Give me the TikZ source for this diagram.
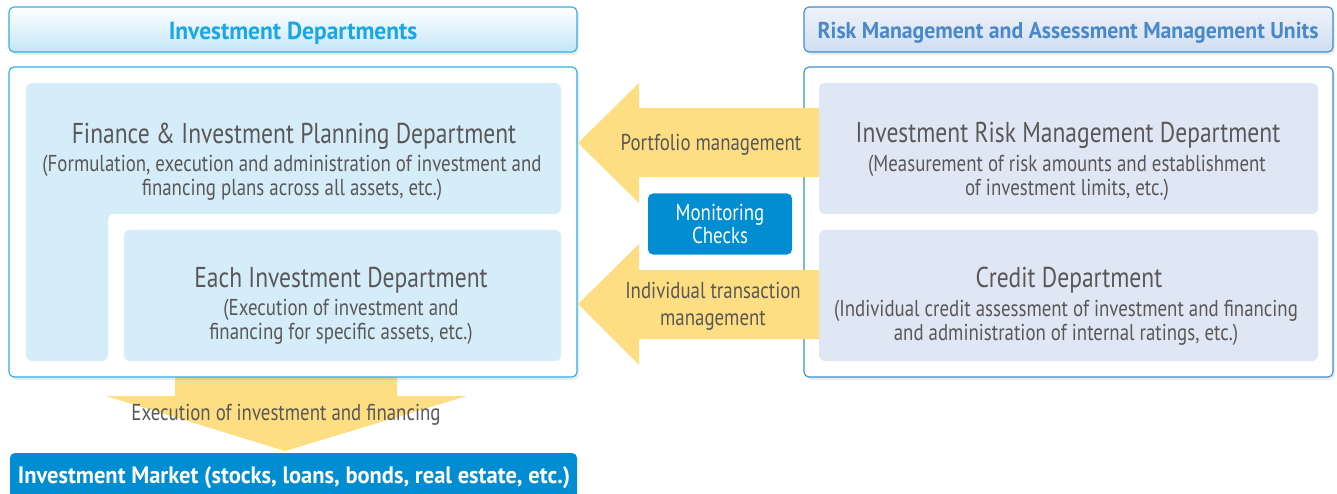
\documentclass[tikz,border=0pt]{standalone}
\usepackage{fontspec}
\setmainfont{PT Sans}[FakeStretch=0.82]
\newfontfamily\headfont{PT Sans}[FakeStretch=0.95]
\usepackage{tikz}
\usetikzlibrary{shadows}
\definecolor{deptcyan}{HTML}{2AB0E6}
\definecolor{riskblue}{HTML}{3A8DD0}
\definecolor{invfill}{HTML}{D5ECF9}
\definecolor{riskfill}{HTML}{E0E7F4}
\definecolor{arrowyel}{HTML}{FDDE82}
\definecolor{monblue}{HTML}{008DD2}
\definecolor{txtgray}{HTML}{595757}
\definecolor{invtitle}{HTML}{1BA6E4}
\definecolor{risktitle}{HTML}{4A88C9}

\begin{document}
\begin{tikzpicture}[x=1pt,y=-1pt,
  frame/.style={rounded corners=5pt,line width=1.1pt,fill=white,
    drop shadow={opacity=0.15,shadow xshift=2pt,shadow yshift=-3pt}},
  headtext/.style={font=\headfont\bfseries\fontsize{#1}{28}\selectfont},
  depttitle/.style={text=txtgray,font=\fontsize{28.7}{32}\selectfont},
  deptdesc/.style={text=txtgray,align=center,font=\fontsize{23}{24}\selectfont},
  arrowtext/.style={text=txtgray,align=center,font=\fontsize{23}{27}\selectfont}]
\useasboundingbox (0,0) rectangle (1337,494);

% execution arrow and market
\fill[arrowyel] (175,377) -- (397,377) -- (397,396) -- (467,396) -- (285,451)
  -- (106,396) -- (175,396) -- cycle;
\fill[monblue,rounded corners=5pt] (10,453) rectangle (577,515);
\node[headtext=23.7,text=white] (market) at (294,478) {Investment Market (stocks, loans, bonds, real estate, etc.)};
\node[arrowtext] (exec) at (286,415) {Execution of investment and financing};

% headers
\draw[frame,draw=deptcyan,top color=white,bottom color=invfill!90!deptcyan] (9,7) rectangle (577,52);
\draw[frame,draw=riskblue,top color=riskfill!50,bottom color=riskfill!90!riskblue] (804,7) rectangle (1333,52);
\node[headtext=24.7,text=invtitle] (invhead) at (293,33) {Investment Departments};
\node[headtext=22.9,text=risktitle] (riskhead) at (1068,33) {Risk Management and Assessment Management Units};

% outer frames
\draw[frame,draw=deptcyan] (9,67) rectangle (577,377);
\draw[frame,draw=riskblue] (804,67) rectangle (1333,377);

% management arrows
\fill[arrowyel] (820,108) -- (639,108) -- (639,83) -- (578,143) -- (639,203)
  -- (639,177) -- (820,177) -- cycle;
\fill[arrowyel] (820,270) -- (639,270) -- (639,244) -- (578,304) -- (639,365)
  -- (639,339) -- (820,339) -- cycle;
\node[arrowtext] (portfolio) at (711,145) {Portfolio management};
\node[arrowtext] (individual) at (713,306) {Individual transaction\\management};
\node[fill=monblue,text=white,rounded corners=5pt,minimum width=144,minimum height=61,
  align=center,font=\fontsize{23}{23}\selectfont] (monitor) at (720,224) {Monitoring\\Checks};

% investment departments
\fill[invfill,rounded corners=6pt] (26,83) -- (561,83) -- (561,214) -- (108,214)
  -- (108,361) -- (26,361) -- cycle;
\fill[invfill,rounded corners=6pt] (124,230) rectangle (561,361);
\node[depttitle] (planning) at (294,136) {Finance \& Investment Planning Department};
\node[deptdesc] (planningdesc) at (292,178) {(Formulation, execution and administration of investment and\\financing plans across all assets, etc.)};
\node[depttitle] (eachdept) at (341,280) {Each Investment Department};
\node[deptdesc] (eachdesc) at (341,322) {(Execution of investment and\\financing for specific assets, etc.)};

% risk units
\fill[riskfill,rounded corners=6pt] (819,83) rectangle (1318,214);
\fill[riskfill,rounded corners=6pt] (819,230) rectangle (1318,361);
\node[depttitle] (riskdept) at (1068,135) {Investment Risk Management Department};
\node[deptdesc] (riskdesc) at (1067,178) {(Measurement of risk amounts and establishment\\of investment limits, etc.)};
\node[depttitle] (credit) at (1069,280) {Credit Department};
\node[deptdesc] (creditdesc) at (1066,323) {(Individual credit assessment of investment and financing\\and administration of internal ratings, etc.)};
\end{tikzpicture}
\end{document}
